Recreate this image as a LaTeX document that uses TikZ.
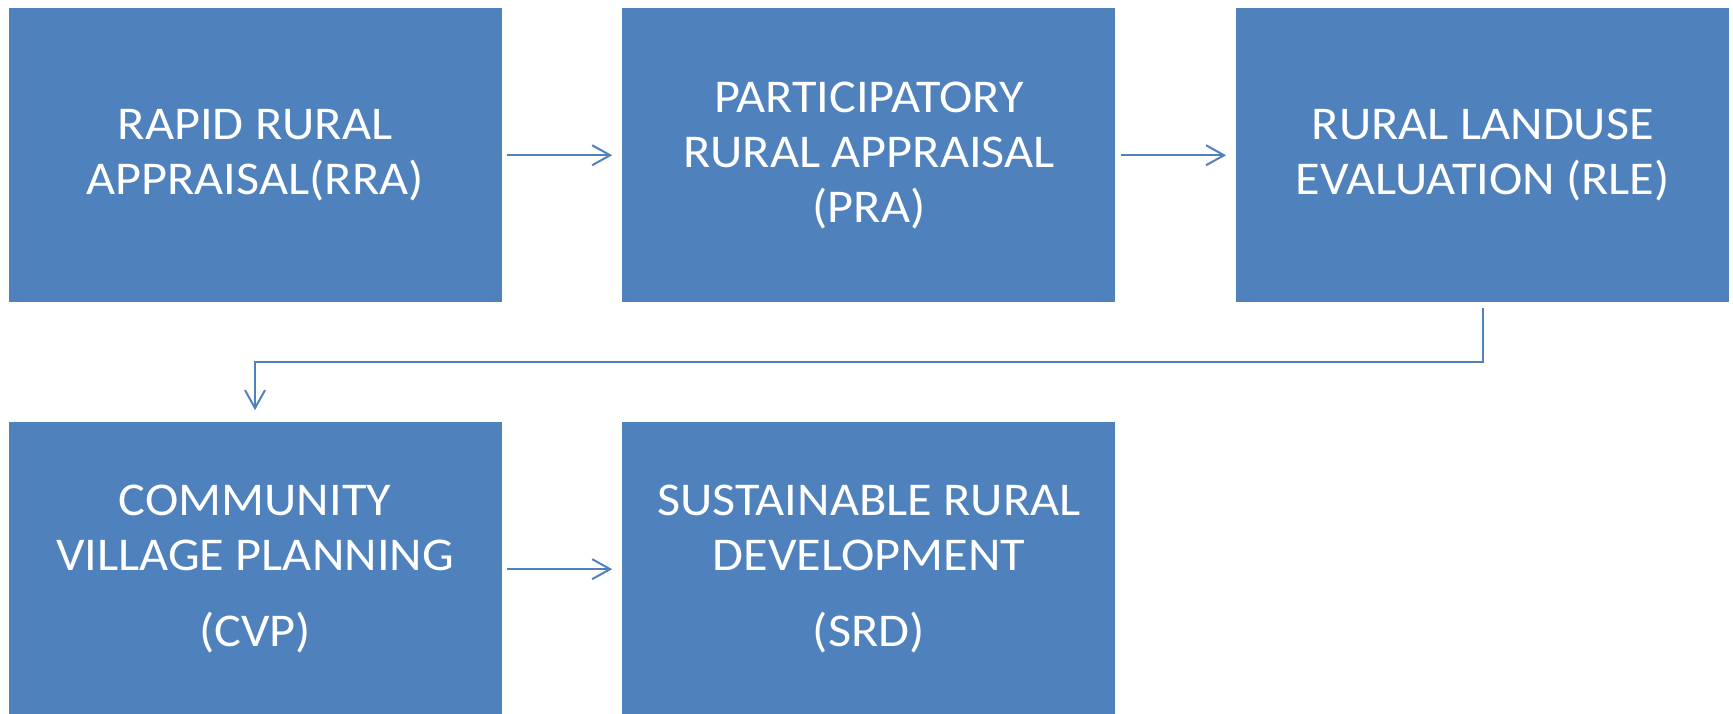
\documentclass[tikz,border=0pt]{standalone}
\usepackage{fontspec}
\setmainfont{Carlito}[FakeStretch=1.07]
\usepackage{xcolor}
\usepackage{tikz}
\usetikzlibrary{positioning,arrows.meta}
\definecolor{stageblue}{HTML}{4F81BD}
\tikzstyle{stage}=[fill=stageblue,text=white,minimum width=493pt,minimum height=293.5pt,inner sep=0pt,align=center,font=\fontsize{47pt}{55pt}\selectfont]
\tikzstyle{flow}=[draw=stageblue,line width=2pt,-{Straight Barb[length=18pt,width=20pt,line width=2pt]}]

\begin{document}
\begin{tikzpicture}
    \useasboundingbox (0,0) rectangle (1733pt,713pt);
    \node[stage] (rra) at (255pt,557.75pt) {RAPID RURAL\\APPRAISAL(RRA)};
    \node[stage,right=120.5pt of rra] (pra) {PARTICIPATORY\\RURAL APPRAISAL\\(PRA)};
    \node[stage,right=120.5pt of pra] (rle) {RURAL LANDUSE\\EVALUATION (RLE)};
    \node[stage,below=120pt of rra] (cvp) {COMMUNITY\\VILLAGE PLANNING\\[21pt](CVP)};
    \node[stage,right=120.5pt of cvp] (srd) {SUSTAINABLE RURAL\\DEVELOPMENT\\[21pt](SRD)};
    \draw[flow,shorten <=5pt,shorten >=10pt] (rra) -- (pra);
    \draw[flow,shorten <=5pt,shorten >=10pt] (pra) -- (rle);
    \draw[flow,shorten >=12pt] ([yshift=-6pt]rle.south) -- ++(0,-54pt) -| (cvp.north);
    \draw[flow,shorten <=5pt,shorten >=10pt] (cvp) -- (srd);
  \end{tikzpicture}
\end{document}
